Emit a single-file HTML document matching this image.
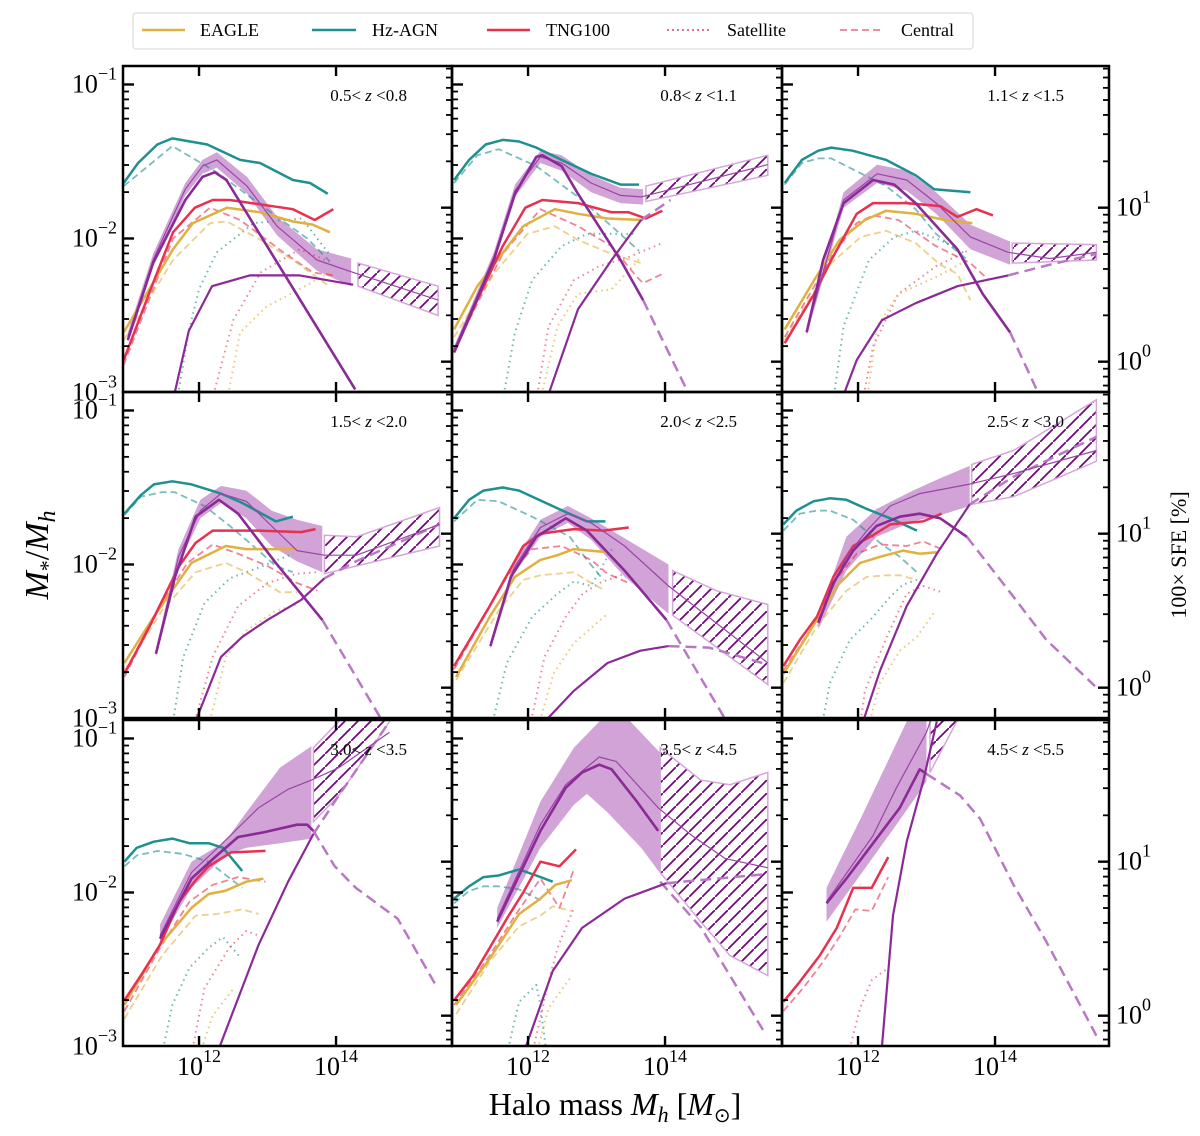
<!DOCTYPE html>
<html><head><meta charset="utf-8">
<style>
html,body{margin:0;padding:0;background:#fff;}
svg{display:block;font-family:"Liberation Serif",serif;}
</style></head>
<body>
<svg id="chart" width="1200" height="1136" viewBox="0 0 1200 1136">
<defs>
<pattern id="hatch" patternUnits="userSpaceOnUse" width="13" height="13">
<line x1="-2" y1="15" x2="15" y2="-2" stroke="#6e0a78" stroke-width="1.8"/>
</pattern>
</defs>
<g id="legend">
<rect x="133" y="13" width="840" height="36" rx="3" fill="#fff" stroke="#ddd" stroke-width="1.2"/>
<g><line x1="142" y1="30" x2="185" y2="30" stroke="#e0b040" stroke-width="2.5"/><text x="200" y="36" font-size="18">EAGLE</text></g>
<g><line x1="312" y1="30" x2="356" y2="30" stroke="#1f9090" stroke-width="2.5"/><text x="372" y="36" font-size="18">Hz-AGN</text></g>
<g><line x1="487" y1="30" x2="530" y2="30" stroke="#e8304f" stroke-width="2.5"/><text x="546" y="36" font-size="18">TNG100</text></g>
<g><line x1="667" y1="30" x2="710" y2="30" stroke="#e07090" stroke-width="2" stroke-dasharray="2,3"/><text x="727" y="36" font-size="18">Satellite</text></g>
<g><line x1="840" y1="30" x2="883" y2="30" stroke="#ec8095" stroke-width="1.8" stroke-dasharray="7,4"/><text x="901" y="36" font-size="18">Central</text></g>
</g>
<g id="panels"></g>
<text x="615" y="1115" font-size="32" text-anchor="middle">Halo mass <tspan font-style="italic">M</tspan><tspan font-style="italic" font-size="22" dy="7">h</tspan><tspan dy="-7"> [</tspan><tspan font-style="italic">M</tspan><tspan font-size="20" dy="7">⊙</tspan><tspan dy="-7">]</tspan></text>
<text transform="translate(48,555) rotate(-90)" font-size="34" text-anchor="middle"><tspan font-style="italic">M</tspan><tspan font-size="22" dy="7">*</tspan><tspan dy="-7">/</tspan><tspan font-style="italic">M</tspan><tspan font-style="italic" font-size="24" dy="7">h</tspan></text>
<text transform="translate(1186,555) rotate(-90)" font-size="22" text-anchor="middle">100× SFE [%]</text>
</svg>
<script>
const zLabels = [["0.5","0.8"],["0.8","1.1"],["1.1","1.5"],["1.5","2.0"],["2.0","2.5"],["2.5","3.0"],["3.0","3.5"],["3.5","4.5"],["4.5","5.5"]];
const xTickVals = [12, 14];
const yTickVals = [-1, -2, -3];
const sfeTickVals = [1, 0];

const eagle = [
 [[10.9,-2.61],[11.62,-2.07],[11.91,-1.90],[12.41,-1.80],[12.89,-1.83],[13.37,-1.89],[13.66,-1.91],[13.91,-1.96]],
 [[10.92,-2.59],[11.26,-2.31],[11.93,-1.92],[12.39,-1.81],[12.73,-1.84],[13.16,-1.87],[13.68,-1.88]],
 [[10.93,-2.59],[11.36,-2.27],[11.73,-2.01],[12.1,-1.88],[12.41,-1.82],[12.84,-1.84],[13.27,-1.88],[13.67,-1.90]],
 [[10.91,-2.64],[11.34,-2.34],[11.89,-1.99],[12.39,-1.88],[12.69,-1.90],[13.43,-1.90]],
 [[10.95,-2.73],[11.44,-2.34],[11.81,-2.08],[12.18,-1.97],[12.43,-1.94],[12.67,-1.90],[13.16,-1.92]],
 [[10.91,-2.71],[11.4,-2.36],[11.69,-2.14],[12.03,-1.99],[12.32,-1.95],[12.66,-1.91],[12.9,-1.93],[13.15,-1.92]],
 [[10.91,-2.73],[11.43,-2.34],[11.89,-2.10],[12.14,-2.01],[12.38,-1.99],[12.69,-1.93],[12.94,-1.91]],
 [[10.95,-2.73],[11.44,-2.43],[11.87,-2.14],[12.18,-2.04],[12.4,-1.95],[12.64,-1.92]],
 []
];
const eagleCen = [
 [[10.9,-2.66],[11.62,-2.14],[12.16,-1.90],[12.41,-1.89],[12.9,-2.01],[13.37,-2.14],[13.9,-2.31]],
 [[10.92,-2.64],[11.5,-2.23],[11.99,-1.97],[12.39,-1.92],[12.73,-2.01],[13.22,-2.10],[13.65,-2.16]],
 [[10.93,-2.66],[11.61,-2.16],[12.04,-1.99],[12.41,-1.95],[12.84,-2.03],[13.2,-2.17],[13.45,-2.23],[13.64,-2.40]],
 [[10.91,-2.69],[11.46,-2.30],[11.95,-2.05],[12.39,-1.99],[12.69,-2.05],[13.18,-2.18],[13.43,-2.18]],
 [[10.95,-2.75],[11.57,-2.30],[11.93,-2.10],[12.18,-2.07],[12.67,-2.05],[12.92,-2.12],[13.13,-2.17]],
 [[10.91,-2.77],[11.4,-2.40],[11.83,-2.17],[12.13,-2.08],[12.42,-2.07],[12.61,-2.07],[12.86,-2.10]],
 [[10.91,-2.82],[11.46,-2.41],[11.95,-2.15],[12.26,-2.14],[12.63,-2.11],[12.87,-2.14]],
 [[10.95,-2.79],[11.44,-2.45],[11.87,-2.22],[12.18,-2.15],[12.36,-2.09],[12.64,-2.12]],
 []
];
const eagleSat = [
 [[12.41,-3.05],[12.6,-2.61],[12.99,-2.44],[13.47,-2.33],[13.9,-2.22]],
 [[12.18,-3.05],[12.43,-2.57],[12.73,-2.36],[13.22,-2.33],[13.65,-2.12]],
 [[12.13,-3.05],[12.28,-2.57],[12.59,-2.36],[13.14,-2.25],[13.6,-2.14]],
 [[12.14,-3.05],[12.39,-2.60],[12.69,-2.43],[13.12,-2.30],[13.43,-2.26]],
 [[12.15,-3.05],[12.37,-2.71],[12.67,-2.51],[13.16,-2.32]],
 [[12.15,-3.05],[12.32,-2.77],[12.61,-2.56],[12.86,-2.47],[13.13,-2.30]],
 [[12.01,-3.05],[12.2,-2.80],[12.51,-2.62]],
 [[12.12,-3.05],[12.3,-2.75],[12.64,-2.54]],
 []
];
const hzagn = [
 [[10.9,-1.64],[11.11,-1.51],[11.39,-1.39],[11.61,-1.35],[12.12,-1.39],[12.6,-1.49],[12.89,-1.51],[13.37,-1.62],[13.62,-1.64],[13.88,-1.71]],
 [[10.92,-1.62],[11.14,-1.49],[11.38,-1.39],[11.63,-1.36],[11.87,-1.37],[12.12,-1.41],[12.49,-1.49],[12.92,-1.58],[13.35,-1.65],[13.62,-1.65]],
 [[10.93,-1.64],[11.18,-1.49],[11.42,-1.43],[11.61,-1.41],[11.92,-1.43],[12.41,-1.49],[12.84,-1.59],[13.11,-1.68],[13.64,-1.70]],
 [[10.91,-1.67],[11.15,-1.55],[11.34,-1.48],[11.61,-1.46],[11.89,-1.48],[12.32,-1.54],[12.63,-1.60],[13.12,-1.72],[13.37,-1.69]],
 [[10.92,-1.70],[11.14,-1.58],[11.35,-1.52],[11.63,-1.50],[11.87,-1.52],[12.55,-1.66],[12.86,-1.72],[13.13,-1.72]],
 [[10.91,-1.74],[11.1,-1.65],[11.35,-1.59],[11.59,-1.57],[11.83,-1.58],[12.13,-1.64],[12.47,-1.70],[12.86,-1.78]],
 [[10.91,-1.80],[11.09,-1.71],[11.34,-1.67],[11.61,-1.65],[11.86,-1.68],[12.14,-1.68],[12.35,-1.71],[12.63,-1.86]],
 [[10.92,-2.04],[11.14,-1.96],[11.35,-1.90],[11.57,-1.89],[11.87,-1.85],[12.12,-1.89],[12.36,-1.93]],
 []
];
const hzagnCen = [
 [[10.9,-1.66],[11.61,-1.40],[12.26,-1.57],[13.14,-1.86],[13.58,-2.0],[13.91,-2.15]],
 [[10.92,-1.64],[11.26,-1.46],[11.57,-1.42],[12.12,-1.53],[12.73,-1.73],[13.22,-1.92],[13.62,-2.08]],
 [[10.93,-1.65],[11.18,-1.51],[11.42,-1.48],[11.61,-1.48],[11.92,-1.55],[12.41,-1.66],[12.84,-1.81],[13.14,-1.97],[13.6,-2.14]],
 [[10.91,-1.68],[11.15,-1.56],[11.46,-1.53],[11.64,-1.53],[12.08,-1.62],[12.45,-1.75],[12.87,-1.91],[13.12,-2.01],[13.37,-2.05]],
 [[10.92,-1.72],[11.26,-1.58],[11.57,-1.59],[12.06,-1.69],[12.61,-1.82],[12.86,-1.97],[13.1,-2.10]],
 [[10.91,-1.78],[11.15,-1.67],[11.4,-1.65],[11.59,-1.65],[11.93,-1.71],[12.32,-1.86],[12.61,-1.95],[12.86,-2.05]],
 [[10.91,-1.83],[11.09,-1.76],[11.4,-1.73],[11.77,-1.75],[12.14,-1.80],[12.63,-1.97]],
 [[10.92,-2.07],[11.14,-1.99],[11.35,-1.96],[11.57,-1.96],[11.87,-1.98],[12.18,-2.05]],
 []
];
const hzagnSat = [
 [[11.68,-3.05],[11.85,-2.6],[12.0,-2.33],[12.26,-2.09],[12.8,-1.9],[13.5,-1.87],[13.9,-2.1]],
 [[11.63,-3.05],[11.81,-2.61],[12.06,-2.27],[12.49,-2.05],[12.86,-1.97],[13.59,-1.97]],
 [[11.64,-3.05],[11.79,-2.57],[12.16,-2.14],[12.53,-1.99],[12.84,-1.95],[13.2,-2.01],[13.57,-2.10]],
 [[11.61,-3.05],[11.77,-2.60],[12.08,-2.25],[12.45,-2.09],[12.87,-2.02],[13.37,-1.93]],
 [[11.47,-3.05],[11.69,-2.64],[12.06,-2.34],[12.43,-2.19],[12.67,-2.11],[12.92,-2.14],[13.25,-1.88]],
 [[11.47,-3.05],[11.59,-2.77],[11.88,-2.49],[12.18,-2.36],[12.47,-2.21],[12.66,-2.13],[12.86,-2.10]],
 [[11.46,-3.05],[11.61,-2.73],[11.86,-2.49],[12.14,-2.36],[12.35,-2.29],[12.6,-2.42]],
 [[11.69,-3.05],[11.87,-2.71],[12.12,-2.60],[12.18,-2.73],[12.27,-3.05]],
 []
];
const tng = [
 [[10.9,-2.79],[11.33,-2.29],[11.62,-1.96],[11.94,-1.80],[12.2,-1.75],[12.45,-1.75],[13.37,-1.81],[13.69,-1.88],[13.96,-1.81]],
 [[10.92,-2.74],[11.26,-2.40],[11.63,-2.05],[11.96,-1.80],[12.21,-1.75],[12.73,-1.77],[13.22,-1.83],[13.47,-1.83],[13.72,-1.87],[13.96,-1.82]],
 [[10.93,-2.68],[11.36,-2.36],[11.61,-2.14],[11.98,-1.84],[12.22,-1.77],[12.71,-1.77],[13.2,-1.79],[13.45,-1.86],[13.73,-1.81],[13.97,-1.85]],
 [[10.91,-2.71],[11.28,-2.40],[11.71,-2.01],[11.95,-1.86],[12.2,-1.78],[12.87,-1.78],[13.49,-1.79],[13.7,-1.77]],
 [[10.92,-2.66],[11.44,-2.27],[11.93,-1.88],[12.18,-1.80],[12.67,-1.77],[13.1,-1.78],[13.47,-1.76]],
 [[10.91,-2.66],[11.15,-2.49],[11.4,-2.34],[11.64,-2.08],[11.93,-1.88],[12.22,-1.81],[12.47,-1.74],[12.71,-1.73],[12.95,-1.72],[13.22,-1.67]],
 [[10.91,-2.70],[11.15,-2.54],[11.43,-2.34],[11.71,-2.06],[11.95,-1.92],[12.14,-1.83],[12.47,-1.74],[12.97,-1.73]],
 [[10.92,-2.70],[11.2,-2.54],[11.44,-2.36],[11.69,-2.17],[11.93,-2.0],[12.18,-1.80],[12.46,-1.83],[12.7,-1.72]],
 [[10.91,-2.71],[11.15,-2.58],[11.44,-2.41],[11.69,-2.23],[11.93,-1.97],[12.2,-1.97],[12.44,-1.77]]
];
const tngCen = [
 [[10.9,-2.82],[11.62,-2.0],[12.16,-1.80],[12.6,-1.88],[13.23,-2.09],[13.66,-2.22],[13.96,-2.24]],
 [[10.92,-2.72],[11.63,-2.10],[12.18,-1.81],[12.73,-1.92],[13.22,-2.05],[13.59,-2.25],[13.68,-2.29],[13.96,-2.23]],
 [[10.93,-2.64],[11.61,-2.12],[11.98,-1.90],[12.22,-1.85],[12.59,-1.88],[13.14,-2.05],[13.64,-2.16],[13.91,-2.27]],
 [[10.91,-2.73],[11.46,-2.25],[11.83,-1.99],[12.2,-1.87],[12.57,-1.93],[13.0,-2.01],[13.43,-2.12],[13.73,-2.17]],
 [[10.92,-2.68],[11.69,-2.08],[12.06,-1.90],[12.49,-1.88],[12.92,-1.97],[13.16,-2.06],[13.47,-2.12]],
 [[10.91,-2.69],[11.4,-2.36],[11.64,-2.12],[11.98,-1.93],[12.32,-1.87],[12.71,-1.88],[12.95,-1.85],[13.22,-1.90]],
 [[10.91,-2.77],[11.43,-2.36],[11.86,-2.06],[12.2,-1.95],[12.57,-1.90],[12.97,-1.93]],
 [[10.92,-2.73],[11.44,-2.41],[11.81,-2.15],[12.18,-1.91],[12.46,-2.10],[12.67,-1.85]],
 [[10.91,-2.77],[11.2,-2.62],[11.49,-2.45],[11.74,-2.28],[11.96,-2.11],[12.2,-2.12],[12.44,-1.90]]
];
const tngSat = [
 [[12.19,-3.05],[12.5,-2.53],[12.9,-2.22],[13.47,-2.07],[13.9,-2.15]],
 [[12.12,-3.05],[12.3,-2.57],[12.67,-2.27],[13.04,-2.18],[13.47,-2.12],[13.96,-2.03]],
 [[12.07,-3.05],[12.22,-2.70],[12.59,-2.36],[13.14,-2.18],[13.6,-2.08]],
 [[11.92,-3.05],[12.2,-2.60],[12.57,-2.27],[13.0,-2.12],[13.43,-2.06],[13.73,-2.05]],
 [[12.03,-3.05],[12.24,-2.60],[12.55,-2.34],[12.8,-2.19],[13.04,-2.12],[13.41,-2.06]],
 [[12.03,-3.05],[12.1,-2.82],[12.42,-2.47],[12.71,-2.19],[12.95,-2.14],[13.22,-2.18]],
 [[11.89,-3.05],[12.08,-2.62],[12.44,-2.36],[12.69,-2.25],[12.87,-2.28]],
 [[12.06,-3.05],[12.3,-2.58],[12.43,-2.36],[12.55,-2.23],[12.67,-2.10]],
 [[11.86,-3.05],[12.03,-2.75],[12.2,-2.57],[12.44,-2.49]]
];
const modelThick = [
 [[10.96,-2.66],[11.33,-2.16],[11.8,-1.75],[12.05,-1.6],[12.23,-1.57],[12.4,-1.62],[14.28,-2.98]],
 [[10.92,-2.74],[11.5,-2.14],[11.81,-1.71],[12.12,-1.47],[12.21,-1.46],[12.49,-1.53],[12.73,-1.71],[13.35,-2.14],[13.68,-2.40]],
 [[11.25,-2.61],[11.49,-2.14],[11.79,-1.77],[12.22,-1.62],[12.53,-1.65],[12.84,-1.77],[13.45,-2.07],[13.82,-2.36],[14.22,-2.61]],
 [[11.37,-2.58],[11.65,-2.08],[11.95,-1.69],[12.29,-1.58],[12.57,-1.67],[13.12,-1.99],[13.8,-2.36]],
 [[11.45,-2.53],[11.75,-2.08],[12.12,-1.82],[12.55,-1.70],[12.86,-1.78],[13.41,-2.04],[14.02,-2.36]],
 [[11.42,-2.38],[11.64,-2.12],[11.93,-1.91],[12.27,-1.75],[12.61,-1.69],[12.9,-1.67],[13.2,-1.70],[13.59,-1.82]],
 [[11.43,-2.30],[11.89,-1.91],[12.26,-1.76],[12.57,-1.64],[12.94,-1.61],[13.43,-1.56],[13.58,-1.56],[13.67,-1.60]],
 [[11.55,-2.19],[11.87,-1.89],[12.18,-1.60],[12.55,-1.32],[12.79,-1.22],[13.04,-1.17],[13.22,-1.20],[13.59,-1.41],[13.9,-1.60]],
 [[11.54,-2.07],[11.83,-1.91],[12.22,-1.68],[12.61,-1.45],[12.9,-1.20],[13.0,-1.23]]
];
const modelFall = [
 [],
 [[13.68,-2.40],[14.39,-3.05]],
 [[14.22,-2.61],[14.68,-3.05]],
 [[13.8,-2.36],[14.72,-3.05]],
 [[14.02,-2.36],[14.94,-3.05]],
 [[13.59,-1.82],[14.27,-2.21],[14.75,-2.49],[15.46,-2.79]],
 [[13.67,-1.60],[13.98,-1.83],[14.29,-1.97],[14.9,-2.17],[15.48,-2.62]],
 [[13.93,-1.93],[14.53,-2.23],[14.88,-2.49],[15.44,-2.90]],
 [[13.0,-1.23],[13.49,-1.37],[13.78,-1.52],[14.27,-1.95],[14.75,-2.32],[15.48,-2.93]]
];
const modelMedian = [
 [[10.96,-2.64],[11.33,-2.14],[11.8,-1.68],[12.05,-1.53],[12.26,-1.49],[12.7,-1.66],[13.14,-1.92],[13.72,-2.14],[14.25,-2.22],[15.49,-2.40]],
 [[10.92,-2.72],[11.5,-2.12],[11.81,-1.69],[12.18,-1.47],[12.49,-1.51],[12.92,-1.64],[13.35,-1.72],[13.65,-1.73],[15.5,-1.52]],
 [[11.25,-2.60],[11.79,-1.75],[12.28,-1.58],[12.71,-1.62],[13.14,-1.77],[13.64,-1.99],[14.19,-2.09],[14.8,-2.13],[15.48,-2.09]],
 [[11.37,-2.57],[11.7,-1.95],[12.02,-1.65],[12.32,-1.54],[12.69,-1.59],[13.06,-1.75],[13.43,-1.91],[13.83,-1.94],[14.3,-1.94],[15.51,-1.74]],
 [[11.45,-2.52],[11.8,-2.02],[12.18,-1.76],[12.58,-1.67],[12.92,-1.73],[13.41,-1.88],[14.05,-2.14],[15.5,-2.64]],
 [[11.42,-2.36],[11.83,-1.95],[12.13,-1.78],[12.47,-1.62],[12.9,-1.54],[13.61,-1.48],[14.27,-1.41],[15.48,-1.26]],
 [[11.43,-2.28],[11.89,-1.87],[12.32,-1.69],[12.87,-1.45],[13.3,-1.33],[13.64,-1.27],[14.04,-1.19],[14.78,-0.96]],
 [[11.55,-2.17],[12.18,-1.56],[12.55,-1.30],[13.04,-1.12],[13.29,-1.15],[13.9,-1.45],[14.39,-1.63],[14.88,-1.78],[15.5,-1.84]],
 [[11.54,-2.06],[12.22,-1.63],[12.56,-1.32],[13.0,-0.96],[13.2,-0.7]]
];
const bandUpper = [
 [[10.96,-2.61],[11.33,-2.10],[11.8,-1.64],[12.05,-1.49],[12.26,-1.44],[12.7,-1.60],[13.14,-1.86],[13.72,-2.07],[14.22,-2.13]],
 [[10.92,-2.70],[11.5,-2.09],[11.81,-1.65],[12.18,-1.43],[12.49,-1.46],[12.92,-1.59],[13.35,-1.67],[13.68,-1.68]],
 [[11.25,-2.57],[11.79,-1.70],[12.28,-1.52],[12.71,-1.56],[13.14,-1.70],[13.64,-1.91],[14.22,-2.02]],
 [[11.37,-2.55],[11.7,-1.90],[12.02,-1.58],[12.32,-1.49],[12.69,-1.52],[13.06,-1.65],[13.43,-1.71],[13.8,-1.75]],
 [[11.45,-2.50],[11.8,-1.98],[12.18,-1.71],[12.58,-1.62],[12.92,-1.70],[13.41,-1.83],[14.05,-2.00]],
 [[11.42,-2.34],[11.83,-1.82],[12.27,-1.64],[12.8,-1.52],[13.2,-1.44],[13.63,-1.36]],
 [[11.43,-2.21],[11.89,-1.80],[12.38,-1.67],[12.69,-1.48],[13.18,-1.19],[13.64,-1.05]],
 [[11.55,-2.10],[12.18,-1.41],[12.67,-1.06],[13.04,-0.89],[13.41,-0.85],[13.92,-1.09]],
 [[11.54,-1.97],[12.06,-1.50],[12.71,-0.89],[13.0,-0.7]]
];
const bandLower = [
 [[10.96,-2.67],[11.33,-2.18],[11.8,-1.72],[12.05,-1.58],[12.26,-1.54],[12.7,-1.71],[13.14,-1.98],[13.72,-2.21],[14.22,-2.31]],
 [[10.92,-2.75],[11.5,-2.16],[11.81,-1.73],[12.18,-1.51],[12.49,-1.56],[12.92,-1.70],[13.35,-1.77],[13.68,-1.78]],
 [[11.25,-2.63],[11.79,-1.80],[12.28,-1.64],[12.71,-1.69],[13.14,-1.84],[13.64,-2.07],[14.22,-2.17]],
 [[11.37,-2.60],[11.7,-2.00],[12.02,-1.70],[12.32,-1.60],[12.69,-1.70],[13.06,-1.88],[13.43,-1.98],[13.8,-2.05]],
 [[11.45,-2.55],[11.8,-2.06],[12.18,-1.82],[12.58,-1.73],[12.92,-1.84],[13.41,-2.08],[14.05,-2.32]],
 [[11.42,-2.42],[11.83,-2.04],[12.27,-1.82],[12.8,-1.72],[13.2,-1.68],[13.63,-1.62]],
 [[11.43,-2.32],[11.89,-1.97],[12.38,-1.76],[12.69,-1.71],[13.18,-1.68],[13.64,-1.65]],
 [[11.55,-2.23],[12.18,-1.71],[12.67,-1.43],[12.86,-1.36],[13.16,-1.48],[13.65,-1.71],[13.92,-1.87]],
 [[11.54,-2.19],[12.06,-1.87],[12.56,-1.56],[13.0,-1.28]]
];
const hatchTop = [
 [[14.32,-2.16],[15.49,-2.31]],
 [[13.72,-1.66],[15.5,-1.46]],
 [[14.25,-2.03],[15.48,-2.04]],
 [[13.83,-1.81],[14.3,-1.82],[15.51,-1.63]],
 [[14.11,-2.04],[14.75,-2.17],[15.5,-2.26]],
 [[13.66,-1.35],[14.27,-1.26],[15.48,-0.93]],
 [[13.67,-1.06],[14.04,-0.89],[15.5,-0.3]],
 [[13.93,-1.06],[14.52,-1.27],[14.95,-1.30],[15.5,-1.22]],
 [[13.05,-0.6],[15.5,-0.3]]
];
const hatchBottom = [
 [[14.32,-2.31],[15.49,-2.50]],
 [[13.72,-1.76],[15.5,-1.59]],
 [[14.25,-2.16],[15.48,-2.14]],
 [[13.83,-2.06],[15.51,-1.88]],
 [[14.11,-2.33],[15.5,-2.78]],
 [[13.66,-1.61],[14.27,-1.56],[15.48,-1.33]],
 [[13.67,-1.54],[14.04,-1.37],[14.78,-0.89],[15.5,-0.4]],
 [[13.93,-1.87],[14.52,-2.19],[14.95,-2.41],[15.5,-2.54]],
 [[13.05,-1.22],[13.44,-0.89],[15.5,-0.4]]
];
const modelRise = [
 [[11.62,-3.05],[11.85,-2.6],[12.19,-2.31],[12.74,-2.24],[13.47,-2.24],[14.25,-2.30]],
 [[12.27,-3.05],[12.73,-2.46],[13.22,-2.14],[13.65,-1.88]],
 [[11.76,-3.05],[11.98,-2.79],[12.35,-2.53],[12.84,-2.42],[13.45,-2.31],[14.19,-2.24]],
 [[11.92,-3.05],[12.32,-2.60],[12.63,-2.47],[13.0,-2.36],[13.49,-2.23],[13.83,-2.09]],
 [[12.18,-3.05],[12.67,-2.82],[13.16,-2.64],[13.64,-2.56],[14.05,-2.53]],
 [[12.05,-3.05],[12.32,-2.69],[12.71,-2.27],[13.15,-1.93],[13.63,-1.61]],
 [[12.26,-3.05],[12.87,-2.34],[13.3,-1.93],[13.67,-1.62]],
 [[11.93,-3.05],[12.36,-2.51],[12.79,-2.23],[13.41,-2.04],[14.02,-1.94]],
 [[12.34,-3.05],[12.51,-2.15],[12.71,-1.67],[12.95,-1.28],[13.15,-0.89]]
];
const modelRiseDash = [
 [],
 [[13.65,-1.88],[14.08,-1.75]],
 [[14.19,-2.24],[14.8,-2.17],[15.48,-2.1]],
 [[13.83,-2.09],[14.29,-1.98],[15.51,-1.74]],
 [[14.05,-2.53],[14.64,-2.54],[15.5,-2.65]],
 [[13.63,-1.61],[14.27,-1.43],[15.48,-1.17]],
 [[13.67,-1.62],[14.04,-1.37],[14.78,-0.89]],
 [[14.02,-1.94],[15.5,-1.88]],
 []
];

const NS = "http://www.w3.org/2000/svg";
const colL = [123, 452, 782], colW = [329, 330, 327];
const rowT = [66, 392, 720], rowH = 326;
const X0 = 10.89, XPD = 68.5, YTOP = -0.88, YPD = 154;
function sx(c, m) { return colL[c] + (m - X0) * XPD; }
function sy(r, v) { return rowT[r] + (YTOP - v) * YPD; }
function mk(tag, attrs, parent) {
  const e = document.createElementNS(NS, tag);
  for (const k in attrs) e.setAttribute(k, attrs[k]);
  if (parent) parent.appendChild(e);
  return e;
}
function pathD(r, c, pts) {
  return pts.map((p, i) => (i ? "L" : "M") + sx(c, p[0]).toFixed(1) + "," + sy(r, p[1]).toFixed(1)).join(" ");
}
function polyD(r, c, up, lo) {
  const all = up.concat(lo.slice().reverse());
  return pathD(r, c, all) + " Z";
}
const root = document.getElementById("panels");

for (let i = 0; i < 9; i++) {
  const r = Math.floor(i / 3), c = i % 3;
  const L = colL[c], T = rowT[r], W = colW[c];
  const g = mk("g", {}, root);
  
  
  const cp = mk("clipPath", {id: "clip" + i}, g);
  mk("rect", {x: L, y: T, width: W, height: rowH}, cp);
  const d = mk("g", {"clip-path": "url(#clip" + i + ")"}, g);

  function line(pts, color, w, dash, name, op) {
    if (!pts.length) return;
    const p = mk("path", {d: pathD(r, c, pts), fill: "none", stroke: color, "stroke-width": w, "stroke-linejoin": "round"}, d);
    if (dash) p.setAttribute("stroke-dasharray", dash);
    if (op) p.setAttribute("stroke-opacity", op);
    
    
  }
  if (bandUpper[i].length) {
    const b = mk("path", {d: polyD(r, c, bandUpper[i], bandLower[i]), fill: "#d1a3d6", stroke: "none"}, d);
    
    
  }
  if (hatchTop[i].length) {
    const hd = polyD(r, c, hatchTop[i], hatchBottom[i]);
    mk("path", {d: hd, fill: "#fff", stroke: "none"}, d);
    const h2 = mk("path", {d: hd, fill: "url(#hatch)", stroke: "#d6a6da", "stroke-width": 1.5}, d);
    
    
  }
  line(hzagnSat[i], "#1f9090", 2, "1.5,4", "hz-agn-satellite", 0.65);
  line(tngSat[i], "#e8304f", 2, "1.5,4", "tng100-satellite", 0.6);
  line(eagleSat[i], "#e0b040", 2, "1.5,4", "eagle-satellite", 0.7);
  line(hzagnCen[i], "#1f9090", 1.8, "7,4", "hz-agn-central", 0.6);
  line(tngCen[i], "#e8304f", 1.8, "7,4", "tng100-central", 0.6);
  line(eagleCen[i], "#e0b040", 1.8, "7,4", "eagle-central", 0.6);
  line(eagle[i], "#e0b040", 2.5, null, "eagle-line");
  line(hzagn[i], "#1f9090", 2.5, null, "hz-agn-line");
  line(tng[i], "#e8304f", 2.5, null, "tng100-line");
  line(modelFall[i], "#b978c3", 2.5, "11,6", "model-decline-dashed");
  line(modelRiseDash[i], "#b978c3", 2.5, "11,6", "model-rise-dashed");
  line(modelRise[i], "#8b2a97", 2.2, null, "model-rise");
  line(modelMedian[i], "#9a45a6", 1.2, null, "model-median");
  line(modelThick[i], "#8b2a97", 2.6, null, "model-main");

  const f = mk("rect", {x: L, y: T, width: W, height: rowH, fill: "none", stroke: "#000", "stroke-width": 2.5}, g);
  
  
  for (let dec = -4; dec <= -1; dec++) {
    for (let k = 1; k <= 9; k++) {
      const v = dec + Math.log10(k);
      const y = sy(r, v);
      if (y < T + 1 || y > T + rowH - 1) continue;
      const len = k === 1 ? 11 : 6;
      mk("line", {x1: L, y1: y, x2: L + len, y2: y, stroke: "#000", "stroke-width": k === 1 ? 2.4 : 1.8}, g);
    }
  }
  for (let dec = -1; dec <= 2; dec++) {
    for (let k = 1; k <= 9; k++) {
      const v = dec + Math.log10(k) - 2.8;
      const y = sy(r, v);
      if (y < T + 1 || y > T + rowH - 1) continue;
      const len = k === 1 ? 11 : 6;
      mk("line", {x1: L + W - len, y1: y, x2: L + W, y2: y, stroke: "#000", "stroke-width": k === 1 ? 2.4 : 1.8}, g);
    }
  }
  xTickVals.forEach(m => {
    const x = sx(c, m);
    mk("line", {x1: x, y1: T, x2: x, y2: T + 10, stroke: "#000", "stroke-width": 2.4}, g);
    mk("line", {x1: x, y1: T + rowH, x2: x, y2: T + rowH - 10, stroke: "#000", "stroke-width": 2.4}, g);
  });
  const zt = mk("text", {x: L + W - 45, y: T + 35, "font-size": 17, "text-anchor": "end"}, g);
  
  
  zt.innerHTML = zLabels[i][0] + '&lt; <tspan font-style="italic">z</tspan> &lt;' + zLabels[i][1];

  if (c === 0) {
    yTickVals.forEach(v => {
      const y = sy(r, v);
      if (y < T - 2 || y > T + rowH + 4) return;
      const t = mk("text", {x: 117, y: y + 8, "font-size": 26, "text-anchor": "end"}, g);
      
      
      t.innerHTML = '10<tspan font-size="18" dy="-13">−' + (-v) + '</tspan>';
    });
  }
  if (c === 2) {
    sfeTickVals.forEach(v => {
      const y = sy(r, v - 2.8);
      const t = mk("text", {x: 1116, y: y + 8, "font-size": 26}, g);
      
      
      t.innerHTML = '10<tspan font-size="18" dy="-13">' + v + '</tspan>';
    });
  }
  if (r === 2) {
    xTickVals.forEach(m => {
      const t = mk("text", {x: sx(c, m) - 22, y: 1075, "font-size": 26}, g);
      
      
      t.innerHTML = '10<tspan font-size="18" dy="-13">' + m + '</tspan>';
    });
  }
}
</script>
</body></html>
